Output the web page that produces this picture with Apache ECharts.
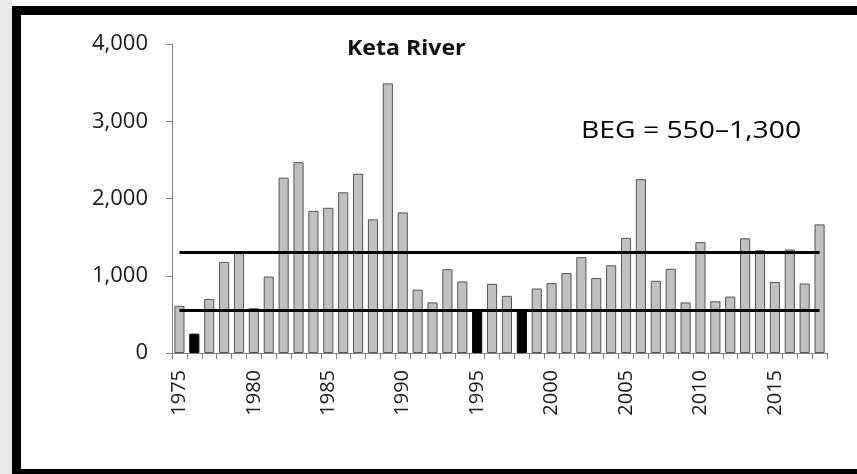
<!DOCTYPE html>
<html lang="en">
<head>
    <meta charset="utf-8">
    <title>Keta River</title>
    <script src="https://cdn.jsdelivr.net/npm/echarts@6/dist/echarts.min.js"></script>
    <style>
        html, body { margin: 0; padding: 0; background: #fff; }
        #main { width: 857px; height: 474px; }
    </style>
</head>
<body>
<div id="main"></div>
<script type="text/javascript">
// years on the x axis
var years = ['1975','1976','1977','1978','1979','1980','1981','1982','1983','1984',
             '1985','1986','1987','1988','1989','1990','1991','1992','1993','1994',
             '1995','1996','1997','1998','1999','2000','2001','2002','2003','2004',
             '2005','2006','2007','2008','2009','2010','2011','2012','2013','2014',
             '2015','2016','2017','2018'];
// escapement
var escapement = [610, 250, 700, 1180, 1300, 580, 990, 2270, 2470, 1840,
                  1880, 2080, 2320, 1730, 3490, 1820, 820, 655, 1085, 925,
                  550, 895, 740, 550, 835, 905, 1035, 1240, 970, 1135,
                  1490, 2250, 935, 1090, 655, 1435, 670, 730, 1485, 1330,
                  920, 1340, 900, 1665];
// years drawn in black
var blackYears = ['1976', '1995', '1998'];
// goal range
var begLower = 550;
var begUpper = 1300;
var yTicks = [0, 1000, 2000, 3000, 4000];

var font = '"Open Sans", sans-serif';

var barData = [];
for (var i = 0; i < years.length; i++) {
    var black = blackYears.indexOf(years[i]) >= 0;
    barData.push({
        value: escapement[i],
        itemStyle: black ? { color: '#000', borderColor: '#000' } : {}
    });
}

var myChart = echarts.init(document.getElementById('main'));
var option = {
    animation: false,
    grid: { left: 172, right: 30, top: 44, bottom: 121 },
    graphic: [
        // grey strip and thick frame
        { type: 'rect', left: 0, top: 0, shape: { width: 12, height: 474 }, style: { fill: '#ebebeb' } },
        { type: 'rect', shape: { x: 16.5, y: 10.5, width: 900, height: 463 },
          style: { fill: 'none', stroke: '#000', lineWidth: 9 } },
        // title
        { type: 'text', x: 347, y: 49, scaleX: 1.05,
          style: { text: 'Keta River', fontFamily: font, fontSize: 22, fontWeight: 'bold',
                   fill: '#111', textVerticalAlign: 'middle' } },
        // goal label
        { type: 'text', x: 581, y: 131, scaleX: 1.23,
          style: { text: 'BEG = 550\u20131,300', fontFamily: font, fontSize: 23,
                   fill: '#000', textVerticalAlign: 'middle' } }
    ],
    xAxis: {
        type: 'category',
        data: years,
        axisLine: { lineStyle: { color: '#808080', width: 1 } },
        axisTick: { show: true, interval: 0, length: 6, lineStyle: { color: '#808080' } },
        axisLabel: { interval: 4, rotate: 90, margin: 17, fontFamily: font, fontSize: 20, color: '#1a1a1a' }
    },
    yAxis: {
        type: 'value',
        min: yTicks[0],
        max: yTicks[yTicks.length - 1],
        interval: 1000,
        splitLine: { show: false },
        axisLine: { show: true, lineStyle: { color: '#808080', width: 1 } },
        axisTick: { show: true, length: 6, lineStyle: { color: '#808080' } },
        axisLabel: {
            margin: 24, fontFamily: font, fontSize: 22, color: '#1a1a1a',
            formatter: function (v) { return v.toLocaleString('en-US'); }
        }
    },
    series: [{
        type: 'bar',
        data: barData,
        barCategoryGap: '32%',
        itemStyle: { color: '#c0c0c0', borderColor: '#555', borderWidth: 1 },
        markLine: {
            silent: true,
            symbol: 'none',
            label: { show: false },
            lineStyle: { color: '#000', width: 3, type: 'solid' },
            data: [
                [{ coord: [years[0], begUpper] }, { coord: [years[years.length - 1], begUpper] }],
                [{ coord: [years[0], begLower] }, { coord: [years[years.length - 1], begLower] }]
            ]
        }
    }]
};
myChart.setOption(option);
</script>
</body>
</html>
